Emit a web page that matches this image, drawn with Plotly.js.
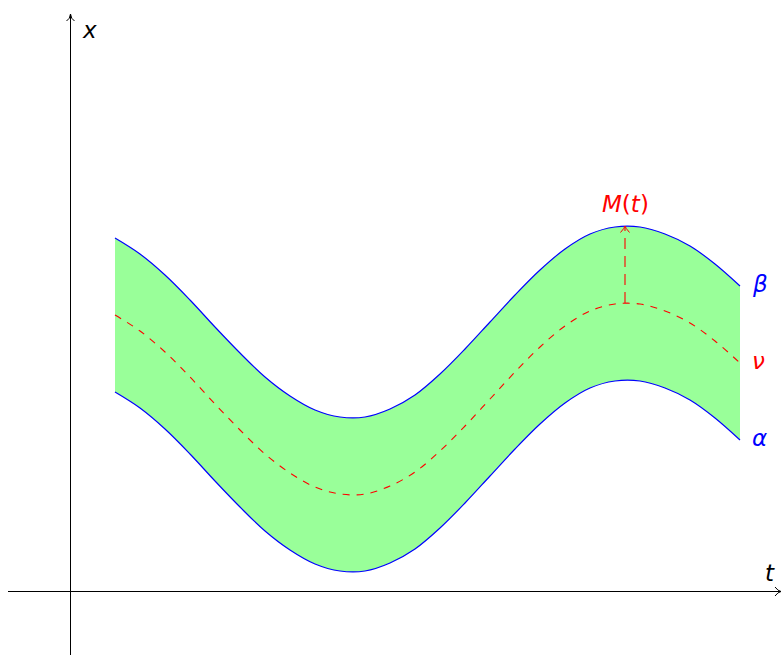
<!DOCTYPE html>
<html>
<head>
<meta charset="utf-8">
<script src="https://cdn.plot.ly/plotly-3.0.1.min.js"></script>
<style>html,body{margin:0;padding:0;background:#fff;}#chart{width:781px;height:655px;}</style>
</head>
<body>
<div id="chart"></div>
<script>
// Sample positions along t
var tVals     = [0.45, 0.70, 0.95, 1.20, 1.45, 1.70, 1.95, 2.20, 2.45, 2.70, 2.95, 3.20, 3.45,
                 3.70, 3.95, 4.20, 4.45, 4.70, 4.95, 5.20, 5.45, 5.70, 5.95, 6.20, 6.45, 6.70];
// beta (upper bound)
var betaVals  = [3.53, 3.37, 3.16, 2.91, 2.64, 2.38, 2.14, 1.95, 1.81, 1.74, 1.74, 1.82, 1.96,
                 2.17, 2.42, 2.69, 2.96, 3.21, 3.42, 3.57, 3.64, 3.64, 3.57, 3.45, 3.27, 3.05];
// nu (middle, dashed)
var nuVals    = [2.76, 2.60, 2.39, 2.14, 1.87, 1.61, 1.37, 1.18, 1.04, 0.97, 0.97, 1.05, 1.19,
                 1.40, 1.65, 1.92, 2.19, 2.44, 2.65, 2.80, 2.87, 2.87, 2.80, 2.68, 2.50, 2.28];
// alpha (lower bound)
var alphaVals = [1.99, 1.83, 1.62, 1.37, 1.10, 0.84, 0.60, 0.41, 0.27, 0.20, 0.20, 0.28, 0.42,
                 0.63, 0.88, 1.15, 1.42, 1.67, 1.88, 2.03, 2.10, 2.10, 2.03, 1.91, 1.73, 1.51];
// M(t): location of the maximum
var peakT = 5.55;
var peakNu = 2.88;
var peakBeta = 3.65;

var xRange = [-0.70, 7.11];
var yRange = [-0.64, 5.91];
var FONT = '"DejaVu Sans", "Noto Sans", sans-serif';

var traces = [
  {x: tVals, y: alphaVals, mode: 'lines', line: {color: '#0000ff', width: 1.2, shape: 'spline', smoothing: 1}, hoverinfo: 'skip', showlegend: false},
  {x: tVals, y: betaVals, mode: 'lines', fill: 'tonexty', fillcolor: '#99ff99', line: {color: '#0000ff', width: 1.2, shape: 'spline', smoothing: 1}, hoverinfo: 'skip', showlegend: false},
  {x: tVals, y: nuVals, mode: 'lines', line: {color: '#ff0000', width: 1.1, dash: '7px,7px', shape: 'spline', smoothing: 1}, hoverinfo: 'skip', showlegend: false},
  {x: [peakT, peakT], y: [peakNu, peakBeta - 0.005], mode: 'lines', line: {color: '#ff0000', width: 1.1, dash: '11px,7px'}, hoverinfo: 'skip', showlegend: false}
];

var last = tVals.length - 1;
var tp = peakT, bp = peakBeta;

var shapes = [
  {type: 'line', xref: 'x', yref: 'y', x0: -0.62, x1: 7.11, y0: -0.005, y1: -0.005, line: {color: '#000', width: 1}},
  {type: 'line', xref: 'x', yref: 'y', x0: 0.005, x1: 0.005, y0: -0.64, y1: 5.77, line: {color: '#000', width: 1}},
  {type: 'path', xref: 'x', yref: 'y', path: 'M -0.035,5.70 Q 0.0,5.72 0.005,5.77 Q 0.01,5.72 0.045,5.70', line: {color: '#000', width: 1}},
  {type: 'path', xref: 'x', yref: 'y', path: 'M 7.05,0.04 Q 7.08,0.0 7.11,-0.005 Q 7.08,-0.01 7.05,-0.05', line: {color: '#000', width: 1}},
  {type: 'path', xref: 'x', yref: 'y', path: 'M ' + (tp - 0.045) + ',' + (bp - 0.065) + ' Q ' + (tp - 0.005) + ',' + (bp - 0.02) + ' ' + tp + ',' + bp + ' Q ' + (tp + 0.005) + ',' + (bp - 0.02) + ' ' + (tp + 0.045) + ',' + (bp - 0.065), line: {color: '#ff0000', width: 1}}
];

function lab(x, y, text, color, xanchor, yanchor, xshift, yshift, size) {
  return {x: x, y: y, xref: 'x', yref: 'y', text: text, showarrow: false, xanchor: xanchor, yanchor: yanchor, xshift: xshift || 0, yshift: yshift || 0, font: {family: FONT, size: size || 23, color: color}};
}

var annotations = [
  lab(0.005, 5.61, '<i>x</i>', '#000', 'left', 'middle', 9, 0),
  lab(7.07, 0.18, '<i>t</i>', '#000', 'right', 'middle', 0, 0),
  lab(tVals[last], betaVals[last], '<i>β</i>', '#0000ff', 'left', 'middle', 10, 2),
  lab(tVals[last], nuVals[last], '<i>ν</i>', '#ff0000', 'left', 'middle', 10, 2),
  lab(tVals[last], alphaVals[last], '<i>α</i>', '#0000ff', 'left', 'middle', 10, 2),
  lab(tp, bp, '<i>M</i>(<i>t</i>)', '#ff0000', 'center', 'bottom', 0, 7, 23)
];

var layout = {
  width: 781, height: 655,
  margin: {l: 0, r: 0, t: 0, b: 0},
  paper_bgcolor: '#fff', plot_bgcolor: '#fff',
  xaxis: {range: xRange, visible: false, fixedrange: true},
  yaxis: {range: yRange, visible: false, fixedrange: true},
  shapes: shapes,
  annotations: annotations,
  showlegend: false
};

Plotly.newPlot('chart', traces, layout, {displayModeBar: false, staticPlot: true});
</script>
</body>
</html>
